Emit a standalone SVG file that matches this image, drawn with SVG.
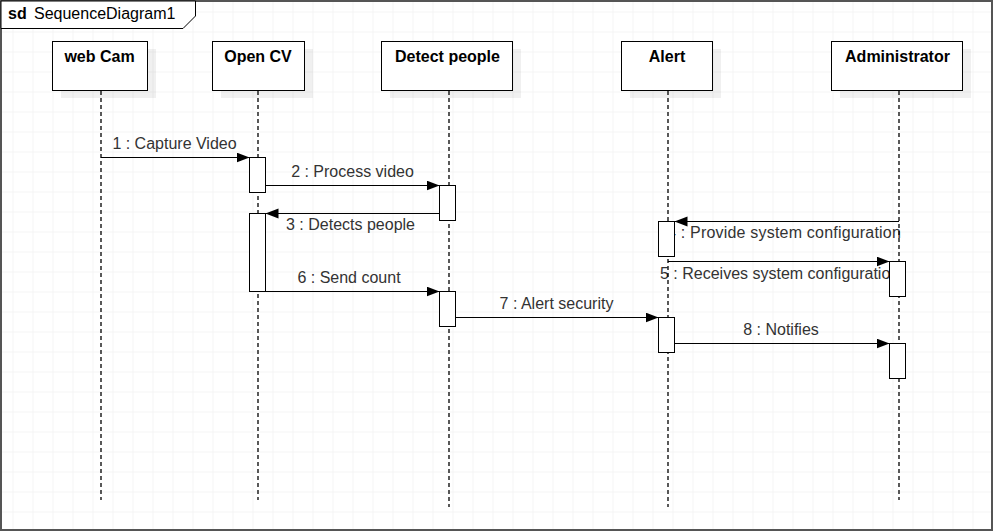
<svg xmlns="http://www.w3.org/2000/svg" width="993" height="531" viewBox="0 0 993 531">
<style>
.hdr{fill:#fff;stroke:#000;stroke-width:1}
.shadow{fill:#000;fill-opacity:0.06}
.name{font-family:"Liberation Sans",Arial,sans-serif;font-size:16px;font-weight:bold;fill:#000;text-anchor:middle}
.life{stroke:#000;stroke-width:1.3;stroke-dasharray:4 3;fill:none}
.act{fill:#fff;stroke:#000;stroke-width:1}
.msg{stroke:#000;stroke-width:1;fill:none;marker-end:url(#arrow)}
.lbl{font-family:"Liberation Sans",Arial,sans-serif;font-size:16px;fill:#333;text-anchor:middle}
</style>
<defs>
<pattern id="grid" x="12.5" y="11.5" width="20" height="20" patternUnits="userSpaceOnUse">
<path d="M0,0 H20 M0,0 V20" stroke="#ebebeb" stroke-width="1" fill="none"/>
</pattern>
<marker id="arrow" markerUnits="userSpaceOnUse" markerWidth="14" markerHeight="11" refX="13" refY="5" orient="auto">
<path d="M0,0 L13,5 L0,10 z" fill="#000"/>
</marker>
</defs>
<rect x="0" y="0" width="993" height="531" fill="#fff"/>
<rect x="0" y="0" width="993" height="531" fill="url(#grid)"/>
<g id="frame">
<rect x="1" y="1" width="991" height="529" fill="none" stroke="#555" stroke-width="2"/>
<path d="M1,1 H195.5 V16 L183,28.5 H1 z" fill="#fff" stroke="#000" stroke-width="1"/>
<text x="8" y="19" font-family="Liberation Sans,Arial,sans-serif" font-size="16" font-weight="bold" fill="#000">sd</text>
<text x="34" y="19" font-family="Liberation Sans,Arial,sans-serif" font-size="16" fill="#000">SequenceDiagram1</text>
</g>
<g id="connectors">
<line class="msg" x1="101" y1="157.5" x2="249.5" y2="157.5"/>
<text class="lbl" x="174.5" y="149">1 : Capture Video</text>
<line class="msg" x1="265.5" y1="185.5" x2="439.5" y2="185.5"/>
<text class="lbl" x="352.5" y="177">2 : Process video</text>
<line class="msg" x1="439.5" y1="213.5" x2="265.5" y2="213.5"/>
<text class="lbl" x="350.5" y="230">3 : Detects people</text>
<line class="msg" x1="899" y1="221.5" x2="674.5" y2="221.5"/>
<text class="lbl" x="667" y="238" style="text-anchor:start;letter-spacing:0.2px">4 : Provide system configuration</text>
<line class="msg" x1="668" y1="261.5" x2="889.5" y2="261.5"/>
<text class="lbl" x="660" y="279" style="text-anchor:start">5 : Receives system configuration</text>
<line class="msg" x1="265.5" y1="291.5" x2="439.5" y2="291.5"/>
<text class="lbl" x="349" y="283">6 : Send count</text>
<line class="msg" x1="455.5" y1="317.5" x2="658.5" y2="317.5"/>
<text class="lbl" x="556.5" y="309">7 : Alert security</text>
<line class="msg" x1="674.5" y1="343.5" x2="889.5" y2="343.5"/>
<text class="lbl" x="781" y="335">8 : Notifies</text>
</g>
<g id="webcam">
<rect class="shadow" x="61" y="49" width="95" height="49"/>
<rect class="hdr" x="52.5" y="41.5" width="95" height="49"/>
<text class="name" x="99.5" y="62">web Cam</text>
<line class="life" x1="101" y1="91" x2="101" y2="500"/>
</g>
<g id="opencv">
<rect class="shadow" x="221" y="49" width="92" height="49"/>
<rect class="hdr" x="212.5" y="41.5" width="92" height="49"/>
<text class="name" x="258" y="62">Open CV</text>
<line class="life" x1="258" y1="91" x2="258" y2="500"/>
<rect class="act" x="249.5" y="157.5" width="16" height="35"/>
<rect class="act" x="249.5" y="213.5" width="16" height="78"/>
</g>
<g id="detectpeople">
<rect class="shadow" x="390" y="49" width="131" height="49"/>
<rect class="hdr" x="381.5" y="41.5" width="131" height="49"/>
<text class="name" x="447.5" y="62">Detect people</text>
<line class="life" x1="449" y1="91" x2="449" y2="507"/>
<rect class="act" x="439.5" y="185.5" width="16" height="35"/>
<rect class="act" x="439.5" y="291.5" width="16" height="35"/>
</g>
<g id="alert">
<rect class="shadow" x="630" y="49" width="91" height="49"/>
<rect class="hdr" x="621.5" y="41.5" width="91" height="49"/>
<text class="name" x="667" y="62">Alert</text>
<line class="life" x1="668" y1="91" x2="668" y2="507"/>
<rect class="act" x="658.5" y="221.5" width="16" height="35"/>
<rect class="act" x="658.5" y="317.5" width="16" height="35"/>
</g>
<g id="administrator">
<rect class="shadow" x="840" y="49" width="131" height="49"/>
<rect class="hdr" x="831.5" y="41.5" width="131" height="49"/>
<text class="name" x="897.5" y="62">Administrator</text>
<line class="life" x1="899" y1="91" x2="899" y2="500"/>
<rect class="act" x="889.5" y="261.5" width="16" height="35"/>
<rect class="act" x="889.5" y="343.5" width="16" height="35"/>
</g>
</svg>
